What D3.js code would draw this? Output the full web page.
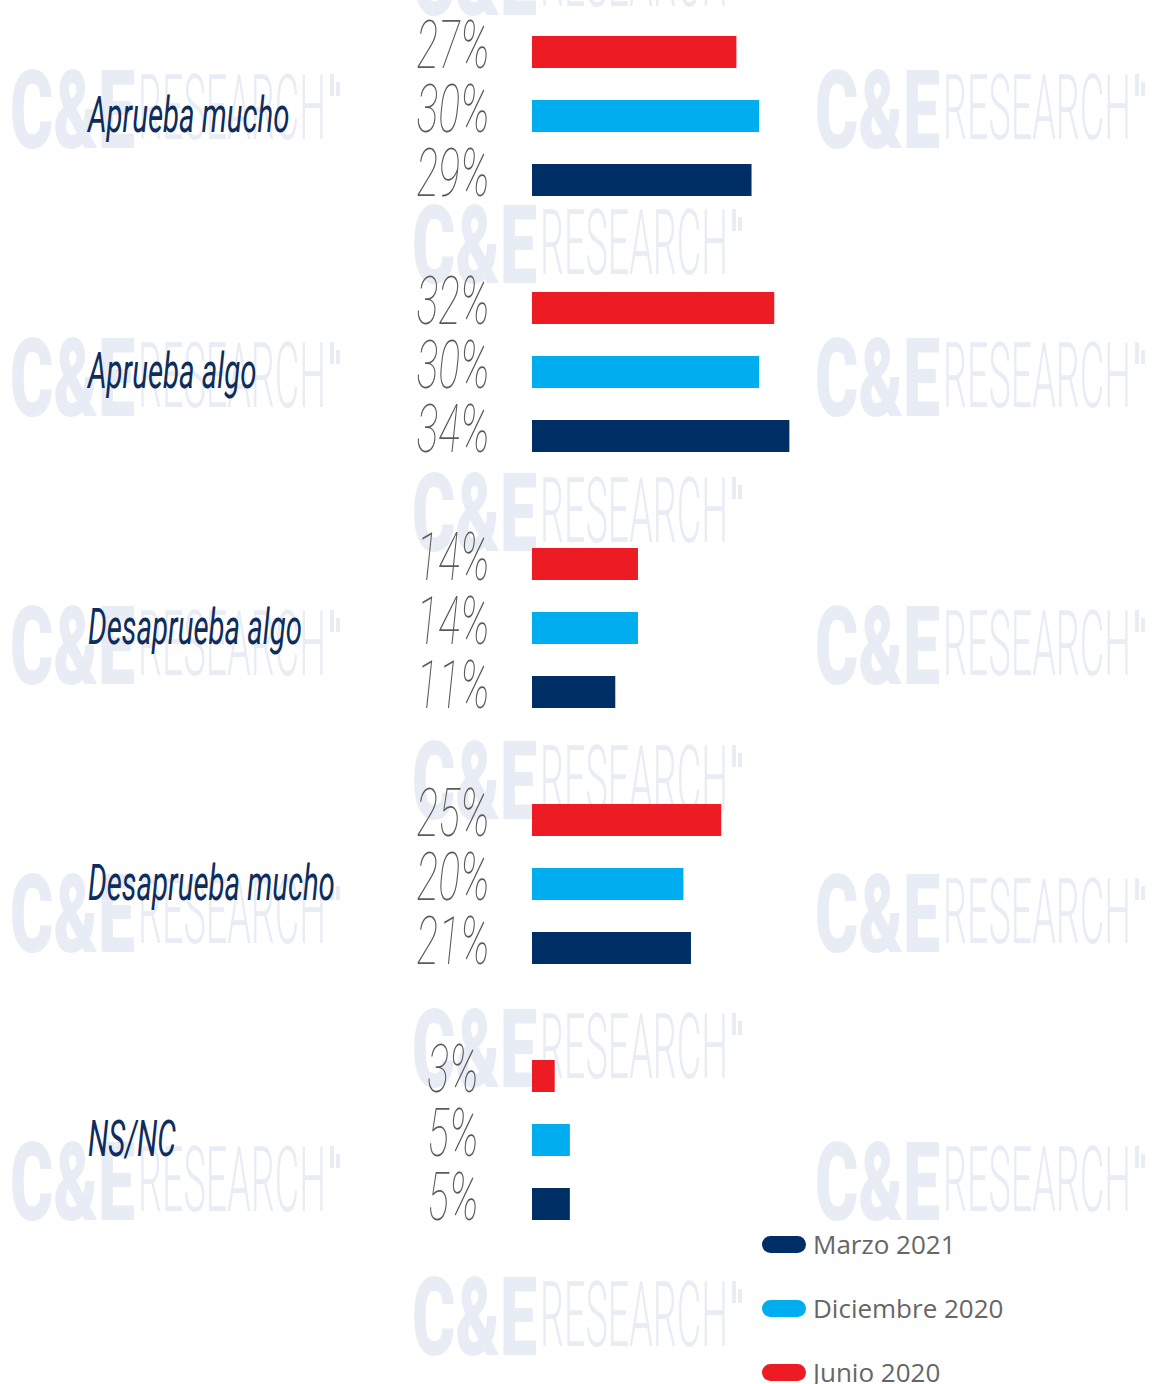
<!DOCTYPE html>
<html>
<head>
<meta charset="utf-8">
<script src="https://cdn.jsdelivr.net/npm/d3@7"></script>
<style>
  body { margin: 0; background: #fff; }
  svg { display: block; }
</style>
</head>
<body>
<div id="chart"></div>
<script>
var categories = ["Aprueba mucho", "Aprueba algo", "Desaprueba algo", "Desaprueba mucho", "NS/NC"];
var series = ["Junio 2020", "Diciembre 2020", "Marzo 2021"];
var junio = [27, 32, 14, 25, 3];
var diciembre = [30, 30, 14, 20, 5];
var marzo = [29, 34, 11, 21, 5];
var legendOrder = ["Marzo 2021", "Diciembre 2020", "Junio 2020"];
var colors = ["#ed1c24", "#00aeef", "#002f66"];

var width = 1153, height = 1384;

var svg = d3.select("#chart")
    .append("svg")
    .attr("width", width)
    .attr("height", height);

// watermark, drawn first so it stays behind
var wmCols = [10, 412, 815];
var wm = svg.append("g").attr("fill", "#e8edf5");
for (var c = 0; c < 3; c++) {
    for (var r = -1; r < 5; r++) {
        var cy = (c === 1) ? 245 + r * 268 : 110 + r * 268;
        if (c !== 1 && r < 0) continue;
        var g = wm.append("g").attr("transform", `translate(${wmCols[c]},${cy})`);
        g.append("text")
            .attr("x", 0).attr("y", 38)
            .attr("font-family", "Roboto").attr("font-weight", 900)
            .attr("font-size", 110)
            .attr("textLength", 125).attr("lengthAdjust", "spacingAndGlyphs")
            .text("C&E");
        g.append("text")
            .attr("x", 128).attr("y", 29)
            .attr("font-family", "Roboto").attr("font-weight", 300)
            .attr("font-size", 91)
            .attr("textLength", 188).attr("lengthAdjust", "spacingAndGlyphs")
            .text("RESEARCH");
        g.append("rect").attr("x", 320).attr("y", -36).attr("width", 4).attr("height", 22);
        g.append("rect").attr("x", 326).attr("y", -28).attr("width", 4).attr("height", 14);
    }
}

// scales
var y0 = d3.scaleBand()
    .domain(categories)
    .range([36, 1220])
    .paddingInner(0.375)
    .paddingOuter(0);

var y1 = d3.scaleBand()
    .domain(series)
    .range([0, y0.bandwidth()])
    .paddingInner(0.5)
    .paddingOuter(0);

var x = d3.scaleLinear()
    .domain([0, 100])
    .range([532, 1289]);

var color = d3.scaleOrdinal().domain(series).range(colors);

var data = categories.map(function (cat, i) {
    return {
        cat: cat,
        values: [
            { s: series[0], v: junio[i] },
            { s: series[1], v: diciembre[i] },
            { s: series[2], v: marzo[i] }
        ]
    };
});

var groups = svg.selectAll(".group")
    .data(data)
    .enter()
    .append("g")
    .attr("class", "group")
    .attr("transform", function (d) { return `translate(0,${y0(d.cat)})`; });

// category label sits on the baseline of the middle bar
groups.append("text")
    .attr("transform", function (d) {
        return `translate(88,${y1(series[1]) + y1.bandwidth()}) scale(0.6,1)`;
    })
    .attr("font-family", "Roboto")
    .attr("font-style", "italic")
    .attr("font-size", 49)
    .attr("fill", "#0f2d5c")
    .text(function (d) { return d.cat; });

groups.selectAll("rect")
    .data(function (d) { return d.values; })
    .enter()
    .append("rect")
    .attr("x", x(0))
    .attr("y", function (d) { return y1(d.s); })
    .attr("width", function (d) { return x(d.v) - x(0); })
    .attr("height", y1.bandwidth())
    .attr("fill", function (d) { return color(d.s); });

groups.selectAll(".pct")
    .data(function (d) { return d.values; })
    .enter()
    .append("text")
    .attr("class", "pct")
    .attr("transform", function (d) {
        return `translate(453,${y1(d.s) + y1.bandwidth()}) scale(0.62,1)`;
    })
    .attr("text-anchor", "middle")
    .attr("font-family", "Roboto")
    .attr("font-weight", 100)
    .attr("font-style", "italic")
    .attr("font-size", 66)
    .attr("fill", "#5a5a5a")
    .text(function (d) { return d.v + "%"; });

// legend
var legend = svg.append("g")
    .selectAll("g")
    .data(legendOrder)
    .enter()
    .append("g")
    .attr("transform", function (d, i) { return `translate(762,${1244 + i * 64})`; });

legend.append("rect")
    .attr("x", 0)
    .attr("y", -8)
    .attr("width", 44)
    .attr("height", 17)
    .attr("rx", 8.5)
    .attr("fill", function (d) { return color(d); });

legend.append("text")
    .attr("x", 51)
    .attr("y", 10)
    .attr("font-family", "Open Sans")
    .attr("font-size", 26)
    .attr("fill", "#666")
    .text(function (d) { return d; });
</script>
</body>
</html>
